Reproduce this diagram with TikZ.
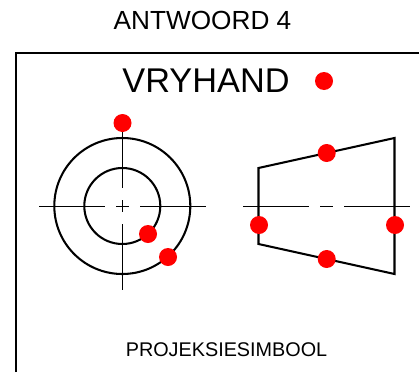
\documentclass[tikz,border=0pt]{standalone}
\usepackage{fontspec}
\setmainfont{Liberation Sans}
\tikzset{
  outline/.style={line width=2.05pt,black,line join=miter},
  centreline/.style={line width=1pt,black},
  reddot/.style={circle,fill=red,draw=none,minimum size=18pt,inner sep=0pt},
  label/.style={inner sep=0pt,black,anchor=base}
}
\begin{document}
\begin{tikzpicture}[x=1pt,y=-1pt]
\useasboundingbox (0,0) rectangle (419,372);
\fill[white] (0,0) rectangle (419,372);
% frame
\draw[outline] (16,372) -- (16,53) -- (419,53);
% titles
\node[label,font=\fontsize{26.2}{28}\selectfont] (title) at (202.5,29.3) {ANTWOORD 4};
\node[label,font=\fontsize{34.3}{38}\selectfont] (vryhand) at (206,92.5) {VRYHAND};
\node[label,font=\fontsize{19.8}{22}\selectfont] (symbol) at (226.5,356) {PROJEKSIESIMBOOL};
% circular view
\draw[centreline] (39,206) -- (105,206) (116,206) -- (129,206) (140,206) -- (206,206);
\draw[centreline] (122.3,123) -- (122.3,188) (122.3,200) -- (122.3,212) (122.3,224) -- (122.3,290);
\draw[outline] (122.3,206) circle[radius=68];
\draw[outline] (122.3,206) circle[radius=38];
% side view
\draw[centreline] (243,206) -- (308.5,206) (320,206) -- (333,206) (344,206) -- (410,206);
\draw[outline] (258.5,168) -- (394.5,138) -- (394.5,274) -- (258.5,244) -- cycle;
% dots
\node[reddot] (d1) at (324,81) {};
\node[reddot] (d2) at (122.5,123) {};
\node[reddot] (d3) at (148,234) {};
\node[reddot] (d4) at (168,257) {};
\node[reddot] (d5) at (326.7,153) {};
\node[reddot] (d6) at (259,225) {};
\node[reddot] (d7) at (395,225) {};
\node[reddot] (d8) at (326.7,259) {};
\end{tikzpicture}
\end{document}
